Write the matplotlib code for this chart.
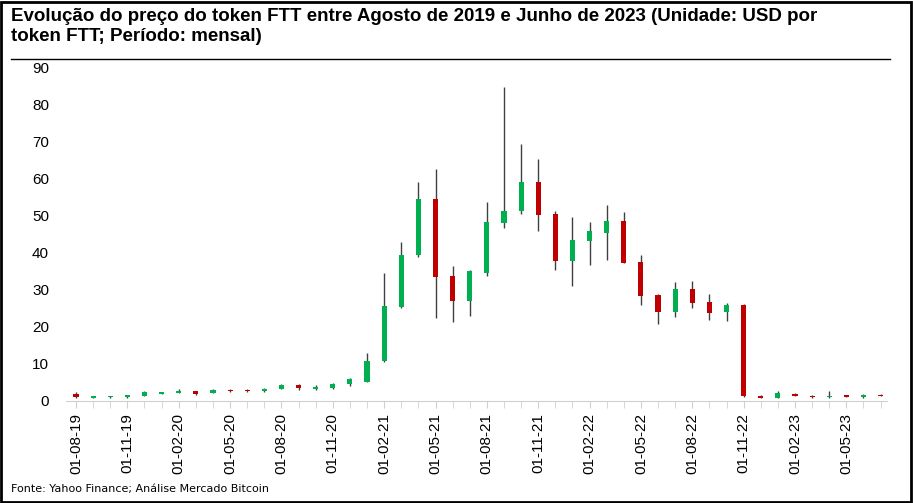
import matplotlib.pyplot as plt
import numpy as np

plt.rcParams['font.family'] = ['Liberation Sans', 'DejaVu Sans']

months = ['01-08-19', '01-09-19', '01-10-19', '01-11-19', '01-12-19', '01-01-20', '01-02-20', '01-03-20',
          '01-04-20', '01-05-20', '01-06-20', '01-07-20', '01-08-20', '01-09-20', '01-10-20', '01-11-20',
          '01-12-20', '01-01-21', '01-02-21', '01-03-21', '01-04-21', '01-05-21', '01-06-21', '01-07-21',
          '01-08-21', '01-09-21', '01-10-21', '01-11-21', '01-12-21', '01-01-22', '01-02-22', '01-03-22',
          '01-04-22', '01-05-22', '01-06-22', '01-07-22', '01-08-22', '01-09-22', '01-10-22', '01-11-22',
          '01-12-22', '01-01-23', '01-02-23', '01-03-23', '01-04-23', '01-05-23', '01-06-23', '01-07-23']
opens = [1.8, 0.9, 1.0, 1.0, 1.3, 1.9, 2.2, 2.6, 2.1, 3.0, 3.0, 2.6, 3.3, 4.3, 3.3, 3.4,
         4.5, 5.2, 10.7, 25.5, 39.5, 54.5, 33.8, 27.0, 34.6, 48.0, 51.3, 59.2, 50.5, 37.9, 43.1, 45.5,
         48.5, 37.6, 28.6, 24.0, 30.3, 26.8, 24.0, 26.0, 1.3, 0.8, 1.9, 1.4, 1.0, 1.5, 1.0, 1.7]
closes = [1.0, 1.2, 1.3, 1.5, 2.3, 2.3, 2.8, 1.9, 3.0, 2.6, 2.6, 3.3, 4.3, 3.4, 3.8, 4.6,
          5.8, 10.9, 25.6, 39.5, 54.5, 33.5, 27.0, 35.2, 48.3, 51.3, 59.2, 50.2, 37.9, 43.4, 45.8, 48.5,
          37.4, 28.4, 24.0, 30.3, 26.5, 23.8, 26.0, 1.3, 0.8, 2.0, 1.4, 1.0, 1.4, 1.1, 1.7, 1.4]
highs = [2.5, 1.3, 1.4, 1.6, 2.6, 2.5, 3.2, 2.7, 3.2, 3.3, 3.2, 3.5, 4.5, 4.5, 4.2, 4.8,
         6.2, 13.0, 34.6, 43.0, 59.2, 62.7, 36.5, 35.5, 53.7, 84.8, 69.3, 65.4, 51.3, 49.6, 48.3, 52.9,
         51.0, 39.5, 28.8, 32.2, 32.5, 28.8, 26.5, 26.3, 1.6, 2.6, 2.0, 1.5, 2.6, 1.6, 1.8, 1.8]
lows = [0.9, 0.8, 0.9, 0.9, 1.2, 1.8, 2.1, 1.5, 2.0, 2.5, 2.5, 2.5, 3.2, 2.9, 3.0, 3.3,
        3.9, 5.0, 10.5, 25.0, 39.0, 22.4, 21.2, 22.9, 33.8, 46.6, 50.5, 45.8, 35.5, 31.1, 36.8, 38.2,
        37.4, 25.9, 20.7, 22.6, 25.0, 21.8, 21.5, 1.0, 0.7, 0.8, 1.3, 0.9, 0.9, 1.0, 0.9, 1.3]

green = '#00b050'
red = '#c00000'

fig = plt.figure(figsize=(9.13, 5.03), dpi=100)
ax = fig.add_axes([0.072, 0.203, 0.90, 0.662])

x = np.arange(len(months))
for i in x:
    col = green if closes[i] >= opens[i] else red
    ax.vlines(i, lows[i], highs[i], color='#404040', linewidth=1.0, zorder=1)
    lo = min(opens[i], closes[i])
    h = max(abs(closes[i] - opens[i]), 0.3)
    ax.bar(i, h, bottom=lo, width=0.3, color=col, zorder=2)

ax.set_xlim(-0.6, len(months) - 0.6)
ax.set_ylim(0, 90)
ax.set_yticks(range(0, 91, 10))
ax.set_xticks(x[::3])
ax.set_xticklabels(months[::3], rotation=90, fontsize=11)
ax.set_xticks(x, minor=True)
ax.tick_params(axis='y', length=0, labelsize=11, pad=12)
ax.tick_params(axis='x', which='both', length=5, color='#d0d0d0', direction='out', pad=4)
for s in ['top', 'right', 'left']:
    ax.spines[s].set_visible(False)
ax.spines['bottom'].set_color('#d0d0d0')

fig.text(0.012, 0.985, 'Evolução do preço do token FTT entre Agosto de 2019 e Junho de 2023 (Unidade: USD por\ntoken FTT; Período: mensal)',
         fontsize=13.5, fontweight='bold', va='top', ha='left', linespacing=1.25)
fig.add_artist(plt.Line2D([0.012, 0.975], [0.882, 0.882], color='black', linewidth=1))
fig.text(0.012, 0.018, 'Fonte: Yahoo Finance; Análise Mercado Bitcoin', fontsize=8, family=['DejaVu Sans'], va='bottom')
fig.add_artist(plt.Rectangle((0.001, 0.002), 0.997, 0.995, fill=False, edgecolor='black', linewidth=2,
                             transform=fig.transFigure))

fig.savefig('out.png', dpi=100)
